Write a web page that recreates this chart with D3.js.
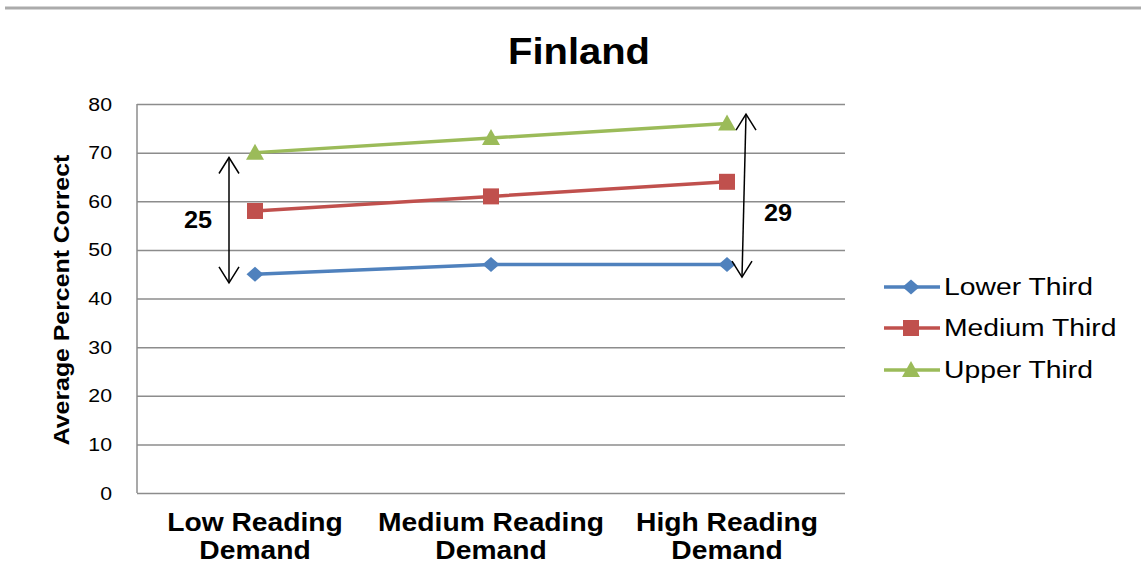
<!DOCTYPE html>
<html>
<head>
<meta charset="utf-8">
<script src="https://cdn.jsdelivr.net/npm/d3@7"></script>
<style>
  html, body { margin: 0; padding: 0; background: #fff; }
  svg { display: block; font-family: "Liberation Sans", Arial, sans-serif; }
</style>
</head>
<body>
<svg id="chart" width="1141" height="576"></svg>
<script>
// Categories and series
const categories = ["Low Reading Demand", "Medium Reading Demand", "High Reading Demand"];
const categoryLines = [["Low Reading", "Demand"], ["Medium Reading", "Demand"], ["High Reading", "Demand"]];
const seriesNames = ["Lower Third", "Medium Third", "Upper Third"];
const lowerThird = [45, 47, 47];
const mediumThird = [58, 61, 64];
const upperThird = [70, 73, 76];
const yTicks = [0, 10, 20, 30, 40, 50, 60, 70, 80];

// Gap arrows between upper and lower third (category index, arrow extent in values)
const gapCategory = [0, 2];
const gapTop = [69, 77.9];
const gapBottom = [43.2, 44.4];

const colors = ["#4F81BD", "#C0504D", "#9BBB59"];
const markers = ["diamond", "square", "triangle"];
const seriesValues = [lowerThird, mediumThird, upperThird];

const svg = d3.select("#chart");
const plot = { left: 137, right: 845, top: 104, bottom: 493 };
const stretch = 1.18;

// Horizontally widened text, anchored at (x, y)
function wideText(parent, x, y, str, opts) {
  const g = parent.append("g").attr("transform", `translate(${x},${y}) scale(${opts.sx || stretch},1)`);
  return g.append("text")
    .attr("text-anchor", opts.anchor || "start")
    .attr("dominant-baseline", "central")
    .attr("font-size", opts.size)
    .attr("font-weight", opts.weight || "normal")
    .attr("fill", opts.fill || "#000")
    .text(str);
}

// Top rule
svg.append("line").attr("x1", 5).attr("x2", 1141).attr("y1", 8).attr("y2", 8)
  .attr("stroke", "#ababab").attr("stroke-width", 3);

const x = d3.scalePoint().domain(categories).range([plot.left, plot.right]).padding(0.5);
const y = d3.scaleLinear().domain([0, 80]).range([plot.bottom, plot.top]);

// Grid and y axis
const yAxis = svg.append("g").attr("transform", `translate(${plot.left},0)`)
  .call(d3.axisLeft(y).tickValues(yTicks).tickSize(-(plot.right - plot.left)).tickPadding(0).tickFormat(""));
yAxis.select(".domain").remove();
yAxis.selectAll(".tick line").attr("stroke", "#8c8c8c").attr("stroke-width", 1.5);
yTicks.forEach(t => wideText(svg, 112, y(t), String(t), { size: 19, anchor: "end", sx: 1.12 }));

svg.append("line").attr("x1", plot.left).attr("x2", plot.left).attr("y1", plot.top).attr("y2", plot.bottom)
  .attr("stroke", "#8c8c8c").attr("stroke-width", 1.5);

// Category labels
categories.forEach((c, i) => {
  categoryLines[i].forEach((ln, j) => {
    wideText(svg, x(c), 523 + j * 28, ln, { size: 25, weight: "bold", anchor: "middle", sx: 1.13 });
  });
});

// Axis title
const yt = svg.append("g").attr("transform", "translate(62,300) rotate(-90) scale(1.13,1)");
yt.append("text").attr("text-anchor", "middle").attr("dominant-baseline", "central")
  .attr("font-size", 22).attr("font-weight", "bold").text("Average Percent Correct");

// Chart title
wideText(svg, 579, 51, "Finland", { size: 37, weight: "bold", anchor: "middle", sx: 1.08 });

// Marker shapes
function marker(sel, type, color) {
  if (type === "diamond") sel.append("path").attr("d", "M0,-7.5L8.5,0L0,7.5L-8.5,0Z").attr("fill", color);
  if (type === "square") sel.append("rect").attr("x", -8).attr("y", -8).attr("width", 16).attr("height", 16).attr("fill", color);
  if (type === "triangle") sel.append("path").attr("d", "M0,-9L9,7L-9,7Z").attr("fill", color);
}

// Series lines and markers
const line = d3.line().x((d, i) => x(categories[i])).y(d => y(d));
seriesValues.forEach((vals, s) => {
  svg.append("path").datum(vals).attr("d", line).attr("fill", "none")
    .attr("stroke", colors[s]).attr("stroke-width", 3.5);
  vals.forEach((v, i) => {
    const g = svg.append("g").attr("transform", `translate(${x(categories[i])},${y(v)})`);
    marker(g, markers[s], colors[s]);
  });
});

// Gap arrows with labels
const arrowDx = [-26, 17];
const arrowTilt = [0, 4];
const labelX = [198, 778];
const labelY = [220, 213];
function chevron(px, py, dirY) {
  svg.append("path")
    .attr("d", `M${px - 10},${py + dirY * 16}L${px},${py}L${px + 10},${py + dirY * 16}`)
    .attr("fill", "none").attr("stroke", "#000").attr("stroke-width", 1.5);
}
gapCategory.forEach((ci, k) => {
  const cx = x(categories[ci]) + arrowDx[k];
  const xTop = cx + arrowTilt[k] / 2, xBot = cx - arrowTilt[k] / 2;
  const yTop = y(gapTop[k]), yBot = y(gapBottom[k]);
  svg.append("line").attr("x1", xTop).attr("y1", yTop).attr("x2", xBot).attr("y2", yBot)
    .attr("stroke", "#000").attr("stroke-width", 1.5);
  chevron(xTop, yTop, 1);
  chevron(xBot, yBot, -1);
  const gap = upperThird[ci] - lowerThird[ci];
  wideText(svg, labelX[k], labelY[k], String(gap), { size: 23, weight: "bold", anchor: "middle", sx: 1.1 });
});

// Legend
const legendY = [287, 328, 370];
seriesNames.forEach((name, s) => {
  svg.append("line").attr("x1", 884).attr("x2", 940).attr("y1", legendY[s]).attr("y2", legendY[s])
    .attr("stroke", colors[s]).attr("stroke-width", 3.5);
  const g = svg.append("g").attr("transform", `translate(911,${legendY[s]})`);
  marker(g, markers[s], colors[s]);
  wideText(svg, 944, legendY[s], name, { size: 24, anchor: "start", sx: 1.18 });
});
</script>
</body>
</html>
